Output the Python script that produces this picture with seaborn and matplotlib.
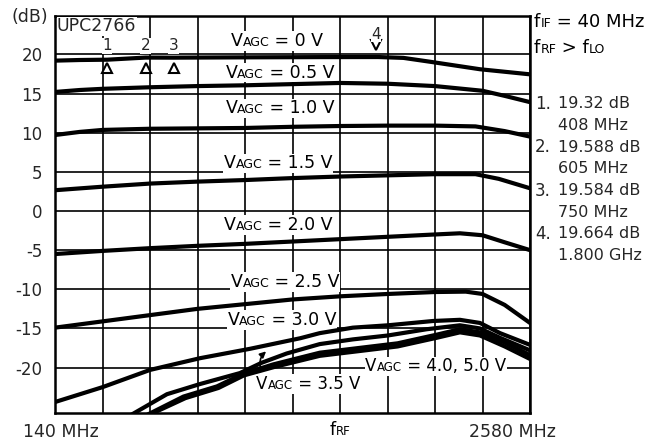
import matplotlib
matplotlib.use("Agg")
import numpy as np
import pandas as pd
import seaborn as sns
import matplotlib.pyplot as plt
from matplotlib.offsetbox import TextArea, HPacker, AnnotationBbox

# ---------------- data ----------------
f_v00 = [140, 268, 408, 605, 750, 1116, 1500, 1800, 1930, 2066, 2323, 2580]
g_v00 = [19.2, 19.28, 19.32, 19.59, 19.58, 19.62, 19.65, 19.66, 19.55, 19.06, 18.1, 17.45]

f_v05 = [140, 268, 384, 628, 872, 1116, 1360, 1604, 1848, 2092, 2336, 2450, 2580]
g_v05 = [15.2, 15.45, 15.6, 15.8, 15.95, 16.05, 16.2, 16.35, 16.25, 15.95, 15.35, 14.7, 13.9]

f_v10 = [140, 268, 384, 628, 872, 1116, 1360, 1604, 1848, 2092, 2300, 2450, 2580]
g_v10 = [9.7, 10.1, 10.35, 10.5, 10.55, 10.6, 10.75, 10.85, 10.9, 10.9, 10.8, 10.2, 9.5]

f_v15 = [140, 384, 628, 872, 1116, 1360, 1604, 1848, 2092, 2300, 2420, 2580]
g_v15 = [2.65, 3.1, 3.5, 3.75, 3.95, 4.2, 4.4, 4.55, 4.7, 4.7, 4.1, 2.9]

f_v20 = [140, 384, 628, 872, 1116, 1360, 1604, 1848, 2092, 2220, 2336, 2450, 2580]
g_v20 = [-5.5, -5.1, -4.75, -4.45, -4.2, -3.9, -3.6, -3.3, -3.0, -2.85, -3.1, -4.0, -5.0]

f_v25 = [140, 384, 628, 872, 1116, 1360, 1604, 1848, 2092, 2250, 2336, 2450, 2580]
g_v25 = [-14.9, -14.1, -13.3, -12.5, -11.9, -11.3, -10.9, -10.6, -10.35, -10.3, -10.6, -12.0, -14.3]

f_v30 = [140, 384, 628, 885, 1142, 1400, 1500, 1670, 1850, 2082, 2220, 2323, 2426, 2580]
g_v30 = [-24.4, -22.5, -20.3, -18.8, -17.6, -16.25, -15.6, -14.9, -14.6, -14.05, -13.9, -14.3, -15.6, -17.1]

f_v35 = [520, 715, 885, 1090, 1200, 1330, 1500, 1670, 1850, 2050, 2220, 2323, 2426, 2580]
g_v35 = [-26.2, -23.4, -22.1, -20.7, -19.4, -18.2, -17.0, -16.4, -15.9, -15.1, -14.6, -15.0, -16.2, -17.8]

f_v40 = [600, 800, 972, 1106, 1260, 1500, 1700, 1900, 2100, 2220, 2323, 2450, 2580]
g_v40 = [-26.2, -23.7, -22.4, -20.8, -19.6, -18.1, -17.5, -16.9, -15.8, -15.1, -15.5, -16.8, -18.4]

f_v50 = [610, 810, 980, 1110, 1270, 1500, 1700, 1900, 2100, 2220, 2323, 2450, 2580]
g_v50 = [-26.2, -23.9, -22.6, -21.0, -19.9, -18.5, -17.9, -17.3, -16.2, -15.5, -15.9, -17.3, -18.9]

series_names = ["0", "0.5", "1.0", "1.5", "2.0", "2.5", "3.0", "3.5", "4.0", "5.0"]
series_f = [f_v00, f_v05, f_v10, f_v15, f_v20, f_v25, f_v30, f_v35, f_v40, f_v50]
series_g = [g_v00, g_v05, g_v10, g_v15, g_v20, g_v25, g_v30, g_v35, g_v40, g_v50]

x_grid = [140, 384, 628, 872, 1116, 1360, 1604, 1848, 2092, 2336, 2580]
y_ticks = [-20, -15, -10, -5, 0, 5, 10, 15, 20]
y_ticklabels = ["-20", "-15", "-10", "-5", "0", "5", "10", "15", "20"]

marker_ids = ["1", "2", "3", "4"]
marker_f = [408, 605, 750, 1790]
marker_gain = ["19.32 dB", "19.588 dB", "19.584 dB", "19.664 dB"]
marker_freq = ["408 MHz", "605 MHz", "750 MHz", "1.800 GHz"]

# ---------------- figure ----------------
sns.set_style("white")
plt.rcParams["font.family"] = ["DejaVu Sans"]

W, H = 657, 443
fig = plt.figure(figsize=(W / 100, H / 100), dpi=100)
ax = fig.add_axes([55 / W, 1 - 413 / H, (530 - 55) / W, (413 - 16) / H])

df = pd.concat(
    [pd.DataFrame({"f": f, "dB": g, "V": n}) for n, f, g in zip(series_names, series_f, series_g)],
    ignore_index=True,
)
for n in series_names:
    sub = df[df["V"] == n]
    sns.lineplot(data=sub, x="f", y="dB", ax=ax, color="black", lw=3.0,
                 estimator=None, sort=False, zorder=3)

ax.set_xlim(140, 2580)
ax.set_ylim(-25.8, 24.9)
ax.set_xticks(x_grid)
ax.set_xticklabels([])
ax.set_yticks(y_ticks)
ax.set_yticklabels(y_ticklabels, fontsize=12)
ax.tick_params(length=0, pad=9)
ax.set_xlabel("")
ax.set_ylabel("")
ax.grid(True, color="black", lw=1.2)
ax.set_axisbelow(True)
for s in ax.spines.values():
    s.set_color("black")
    s.set_linewidth(1.8)
    s.set_zorder(4)


def rich(parts, xy, xycoords, align=(0.5, 0.5), bg=True, target=None, z=2):
    areas = [TextArea(t, textprops=dict(fontsize=s, color="black")) for t, s in parts]
    box = HPacker(children=areas, align="baseline", pad=0, sep=0)
    ab = AnnotationBbox(box, xy, xycoords=xycoords, box_alignment=align,
                        frameon=bg, pad=0.05,
                        bboxprops=dict(facecolor="white", edgecolor="none"))
    ab.set_zorder(z)
    (target or ax).add_artist(ab)
    return ab


def vagc(value, xy):
    rich([("V", 12.5), ("AGC", 9), (" = " + value + " V", 12.5)], xy, "data")


vagc("0", (1280, 21.7))
vagc("0.5", (1296, 17.65))
vagc("1.0", (1296, 13.1))
vagc("1.5", (1286, 6.1))
vagc("2.0", (1286, -1.8))
vagc("2.5", (1322, -9.05))
vagc("3.0", (1306, -13.9))
rich([("V", 12), ("AGC", 8.5), (" = 4.0, 5.0 V", 12)], (2095, -19.85), "data")
rich([("V", 12), ("AGC", 8.5), (" = 3.5 V", 12)], (1440, -22.1), "data")
ax.annotate("", xy=(1235, -17.7), xytext=(1205, -20.8),
            arrowprops=dict(arrowstyle="-|>", color="black", lw=1.2,
                            connectionstyle="arc3,rad=-0.4", mutation_scale=9),
            zorder=6)

# markers
ax.plot(marker_f[:3], [18.3] * 3, ls="none", marker="^", ms=6.5, mfc="white",
        mec="black", mew=1.5, zorder=6, clip_on=False)
ax.plot(marker_f[3:], [21.2], ls="none", marker="v", ms=6.5, mfc="white",
        mec="black", mew=1.5, zorder=6, clip_on=False)
for i, (mid, mf) in enumerate(zip(marker_ids, marker_f)):
    yy = 21.1 if i < 3 else 22.6
    ax.text(mf, yy, mid, ha="center", va="center", fontsize=11, zorder=6,
            bbox=dict(facecolor="white", edgecolor="none", pad=0.3))

ax.text(0.004, 0.997, "UPC2766", transform=ax.transAxes, ha="left", va="top",
        fontsize=12.5, zorder=6,
        bbox=dict(facecolor="white", edgecolor="none", pad=0.3))

# figure texts (pixel positions, top-left origin)
def ftext(x, y, s, ha="center", size=12.5):
    fig.text(x / W, 1 - y / H, s, ha=ha, va="center", fontsize=size)

ftext(30, 17, "(dB)")
ftext(61, 432, "140 MHz")
ftext(512, 432, "2580 MHz")
rich([("f", 12.5), ("RF", 8.5)], (340, H - 430), "figure pixels", bg=False, target=fig)

rich([("f", 13), ("IF", 9), (" = 40 MHz", 13)], (534, H - 22), "figure pixels",
     align=(0, 0.5), bg=False, target=fig)
rich([("f", 13), ("RF", 9), (" > f", 13), ("LO", 9)], (534, H - 48), "figure pixels",
     align=(0, 0.5), bg=False, target=fig)

y0 = 104
step = 43.3
for i in range(4):
    yl = y0 + i * step
    ftext(535, yl, marker_ids[i] + ".", ha="left", size=12)
    ftext(558, yl, marker_gain[i], ha="left", size=11.5)
    ftext(558, yl + 21.5, marker_freq[i], ha="left", size=11.5)

fig.savefig("out.png", dpi=100)
